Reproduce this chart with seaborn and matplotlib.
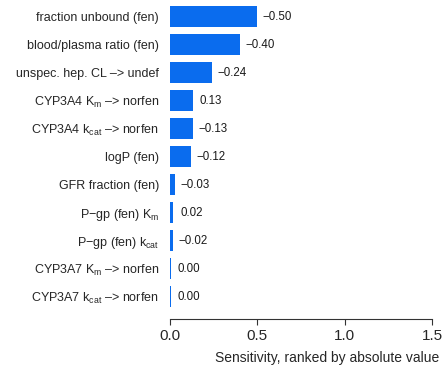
import matplotlib
matplotlib.use("Agg")
import matplotlib.pyplot as plt
import seaborn as sns
import pandas as pd

parameters = [
    "fraction unbound (fen)",
    "blood/plasma ratio (fen)",
    "unspec. hep. CL –> undef",
    "CYP3A4 K$_\\mathregular{m}$ –> norfen",
    "CYP3A4 k$_\\mathregular{cat}$ –> norfen",
    "logP (fen)",
    "GFR fraction (fen)",
    "P−gp (fen) K$_\\mathregular{m}$",
    "P−gp (fen) k$_\\mathregular{cat}$",
    "CYP3A7 K$_\\mathregular{m}$ –> norfen",
    "CYP3A7 k$_\\mathregular{cat}$ –> norfen",
]
sensitivity = [-0.50, -0.40, -0.24, 0.13, -0.13, -0.12, -0.03, 0.02, -0.02, 0.004, 0.004]
value_labels = ["−0.50", "−0.40", "−0.24", "0.13", "−0.13", "−0.12", "−0.03", "0.02", "−0.02", "0.00", "0.00"]
x_ticks = [0.0, 0.5, 1.0, 1.5]

df = pd.DataFrame({"parameter": parameters,
                   "abs_sens": [abs(v) for v in sensitivity]})

sns.set_theme(style="white")
plt.rcParams["font.family"] = ["Liberation Sans", "DejaVu Sans"]
plt.rcParams["mathtext.fontset"] = "custom"
plt.rcParams["mathtext.rm"] = "Liberation Sans"

fig = plt.figure(figsize=(4.46, 3.70), dpi=100)
ax = fig.add_axes([170 / 446, 51 / 370, 262 / 446, (319 - 1.1) / 370])

sns.barplot(data=df, x="abs_sens", y="parameter", orient="h", color="#0A6CEE",
            saturation=1, width=0.75, ax=ax, linewidth=0)

for i, (v, lab) in enumerate(zip(sensitivity, value_labels)):
    off = 3.8 if lab.startswith("−") else 5.2
    ax.annotate(lab, xy=(abs(v), i), xytext=(off, 0), textcoords="offset points",
                ha="left", va="center", fontsize=8.3, color="#1a1a1a")

ax.set_xlim(0, 1.5)
ax.set_ylim(10.8, -0.55)
ax.set_xticks(x_ticks)
ax.set_xticklabels([f"{t:.1f}" for t in x_ticks], fontsize=11)
ax.set_xlabel("Sensitivity, ranked by absolute value", fontsize=10)
ax.xaxis.set_label_coords((327.5 - 170) / 262, -(358 - 319) / 318)
ax.xaxis.label.set_va("center")
ax.set_ylabel("")
ax.tick_params(axis="y", length=0, pad=8, labelsize=9)
ax.tick_params(axis="x", length=4, width=0.8, pad=3, direction="out", bottom=True, color="#333333")
for s in ["top", "right", "left"]:
    ax.spines[s].set_visible(False)
ax.spines["bottom"].set_bounds(0, 1.5)
ax.spines["bottom"].set_color("#333333")
ax.spines["bottom"].set_linewidth(0.8)
ax.grid(False)

fig.savefig("out.png", dpi=100)
